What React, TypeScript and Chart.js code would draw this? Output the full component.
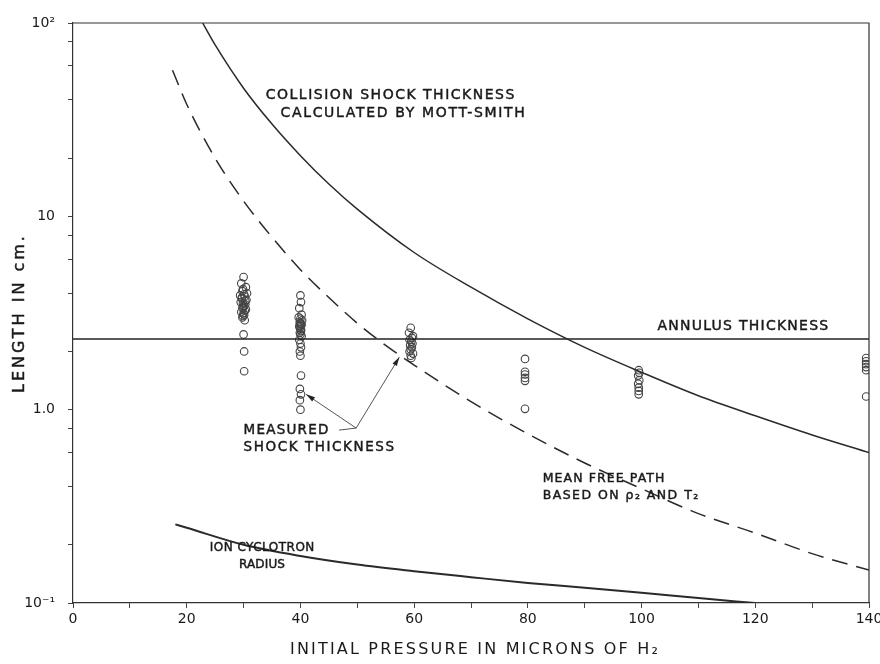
import React, { useEffect, useRef } from 'react';
import { Chart, registerables } from 'chart.js';
Chart.register(...registerables);

// ---- data ----
const collisionX = [22.8, 25, 30, 35, 40, 45, 50, 60, 70, 80, 90, 100, 110, 120, 130, 140];
const collisionY = [100, 77, 46, 30, 20.6, 14.7, 10.9, 6.5, 4.3, 2.95, 2.1, 1.56, 1.18, 0.93, 0.74, 0.6];

const mfpX = [17.5, 20, 25, 30, 35, 40, 45, 50, 55, 60, 70, 80, 90, 100, 110, 120, 130, 140];
const mfpY = [57, 38, 20, 12, 7.8, 5.3, 3.8, 2.8, 2.15, 1.7, 1.1, 0.75, 0.53, 0.39, 0.29, 0.23, 0.18, 0.148];

const ionX = [18, 20, 30, 40, 50, 60, 70, 80, 90, 100, 110, 120];
const ionY = [0.255, 0.245, 0.2, 0.175, 0.158, 0.146, 0.136, 0.127, 0.12, 0.113, 0.106, 0.1];

const annulusX = [0, 140];
const annulusY = [2.32, 2.32];

const measuredX = [
  30, 29.6, 30.4, 29.8, 30.6, 29.4, 30.2, 29.7, 30.5, 29.5, 30.3, 29.9, 30.4, 29.6, 30.1, 29.8, 30.2, 30, 30.1, 30.1,
  29.9, 30.1, 29.7, 30.3, 29.9, 30.1, 29.8, 30.2, 30.0, 29.9,
  40, 40.1, 39.8, 40.2, 39.7, 40.3, 39.9, 40.2, 39.8, 40.1, 39.9, 40.2, 39.8, 40, 40.1, 39.9, 40,
  40.0, 39.9, 40.1, 40.0, 39.9, 40.1, 40.0,
  40.1, 39.9, 40.1, 39.9, 40,
  59.4, 59.1, 59.8, 59.2, 59.7, 59.3, 59.6, 59.2, 59.8, 59.4, 59.5, 59.5, 59.4, 59.6,
  79.5, 79.5, 79.5, 79.5, 79.5, 79.5,
  99.5, 99.6, 99.4, 99.6, 99.4, 99.5, 99.5, 99.5,
  139.5, 139.5, 139.5, 139.5, 139.5, 139.5,
];
const measuredY = [
  4.85, 4.5, 4.3, 4.1, 4.0, 3.9, 3.85, 3.8, 3.7, 3.6, 3.5, 3.4, 3.3, 3.2, 3.1, 3.0, 2.9, 2.45, 2.0, 1.58,
  4.2, 3.95, 3.75, 3.65, 3.55, 3.45, 3.35, 3.25, 3.15, 3.05,
  3.9, 3.6, 3.35, 3.1, 3.0, 2.9, 2.8, 2.75, 2.7, 2.6, 2.5, 2.4, 2.3, 2.2, 2.1, 2.0, 1.9,
  2.95, 2.85, 2.78, 2.72, 2.65, 2.55, 2.45,
  1.5, 1.28, 1.2, 1.12, 1.0,
  2.65, 2.5, 2.4, 2.3, 2.2, 2.15, 2.1, 2.0, 1.95, 1.9, 1.85, 2.25, 2.05, 2.35,
  1.83, 1.57, 1.52, 1.46, 1.41, 1.01,
  1.6, 1.55, 1.5, 1.42, 1.36, 1.3, 1.25, 1.2,
  1.85, 1.78, 1.72, 1.66, 1.6, 1.17,
];

const xTickValues = [0, 10, 20, 30, 40, 50, 60, 70, 80, 90, 100, 110, 120, 130, 140];
const xTickLabels = ['0', '', '20', '', '40', '', '60', '', '80', '', '100', '', '120', '', '140'];
const yTickValues = [0.1, 0.2, 0.4, 0.6, 0.8, 1, 2, 4, 6, 8, 10, 20, 40, 60, 80, 100];
const yTickLabels = ['10⁻¹', '', '', '', '', '1.0', '', '', '', '', '10', '', '', '', '', '10²'];

const xTitle = 'INITIAL PRESSURE IN MICRONS OF H₂';
const yTitle = 'LENGTH IN cm.';

// annotation texts: [text, x (data), y (data), target width px, font px]
const notes: [string, number, number, number, number][] = [
  ['COLLISION SHOCK THICKNESS', 33.9, 42.4, 250, 14],
  ['CALCULATED BY MOTT-SMITH', 36.5, 34.2, 246, 14],
  ['ANNULUS THICKNESS', 102.8, 2.71, 172, 14],
  ['MEASURED', 30.0, 0.784, 86, 13.5],
  ['SHOCK THICKNESS', 30.0, 0.641, 152, 13.5],
  ['MEAN FREE PATH', 82.6, 0.4375, 123, 12.5],
  ['BASED ON ρ₂ AND T₂', 82.6, 0.357, 157, 12.5],
  ['ION CYCLOTRON', 24.05, 0.192, 105, 12],
  ['RADIUS', 29.2, 0.157, 46, 12],
];

// leader lines for "MEASURED SHOCK THICKNESS": junction and arrow tips (data coords)
const leaderDash = [[46.8, 0.784], [49.8, 0.803]];
const leaderTips = [[41.0, 1.2], [57.4, 1.87]];

const INK = '#1a1a1a';
const FONT = '"DejaVu Sans", sans-serif';

function fitText(ctx: CanvasRenderingContext2D, text: string, x: number, y: number, width: number, heavy = true) {
  (ctx as any).letterSpacing = '0px';
  const w = ctx.measureText(text).width;
  const n = Array.from(text).length;
  const ls = (width - w) / Math.max(1, n);
  (ctx as any).letterSpacing = ls.toFixed(2) + 'px';
  ctx.fillText(text, x, y);
  if (heavy) {
    ctx.lineWidth = 0.45;
    ctx.strokeStyle = ctx.fillStyle as string;
    ctx.strokeText(text, x, y);
  }
  (ctx as any).letterSpacing = '0px';
}

const decorPlugin = {
  id: 'decor',
  afterDatasetsDraw(chart: any) {
    const { ctx, chartArea } = chart;
    const xs = chart.scales.x;
    const ys = chart.scales.y;
    ctx.save();
    // top and right frame
    ctx.strokeStyle = '#333';
    ctx.lineWidth = 1.2;
    ctx.beginPath();
    ctx.moveTo(chartArea.left, chartArea.top);
    ctx.lineTo(chartArea.right, chartArea.top);
    ctx.lineTo(chartArea.right, chartArea.bottom);
    ctx.stroke();

    // annotation texts
    ctx.fillStyle = INK;
    ctx.textBaseline = 'middle';
    ctx.textAlign = 'left';
    for (const [t, x, y, w, fs] of notes) {
      ctx.font = `${fs}px ${FONT}`;
      fitText(ctx, t, xs.getPixelForValue(x), ys.getPixelForValue(y), w);
    }

    // leader lines
    ctx.strokeStyle = '#555';
    ctx.lineWidth = 1;
    const jx = xs.getPixelForValue(leaderDash[1][0]);
    const jy = ys.getPixelForValue(leaderDash[1][1]);
    ctx.beginPath();
    ctx.moveTo(xs.getPixelForValue(leaderDash[0][0]), ys.getPixelForValue(leaderDash[0][1]));
    ctx.lineTo(jx, jy);
    ctx.stroke();
    ctx.fillStyle = '#222';
    for (const [tx, ty] of leaderTips) {
      const px = xs.getPixelForValue(tx);
      const py = ys.getPixelForValue(ty);
      ctx.beginPath();
      ctx.moveTo(jx, jy);
      ctx.lineTo(px, py);
      ctx.stroke();
      const ang = Math.atan2(py - jy, px - jx);
      const L = 9, W = 2.5;
      ctx.beginPath();
      ctx.moveTo(px, py);
      ctx.lineTo(px - L * Math.cos(ang) + W * Math.sin(ang), py - L * Math.sin(ang) - W * Math.cos(ang));
      ctx.lineTo(px - L * Math.cos(ang) - W * Math.sin(ang), py - L * Math.sin(ang) + W * Math.cos(ang));
      ctx.closePath();
      ctx.fill();
    }

    // axis titles
    ctx.fillStyle = INK;
    ctx.font = `16px ${FONT}`;
    ctx.textAlign = 'left';
    fitText(ctx, xTitle, 290, 650, 370, false);
    ctx.save();
    ctx.translate(20, 393);
    ctx.rotate(-Math.PI / 2);
    ctx.font = `16px ${FONT}`;
    fitText(ctx, yTitle, 0, 0, 160);
    ctx.restore();
    ctx.restore();
  },
};

export default function App() {
  const ref = useRef<HTMLCanvasElement>(null);
  useEffect(() => {
    const canvas = ref.current;
    if (!canvas) return;
    const pts = (xs: number[], ys: number[]) => xs.map((x, i) => ({ x, y: ys[i] }));
    const lineBase = {
      showLine: true,
      pointRadius: 0,
      pointHoverRadius: 0,
      fill: false,
      borderColor: '#2a2a2a',
      cubicInterpolationMode: 'monotone' as const,
    };
    const chart = new Chart(canvas, {
      type: 'scatter',
      data: {
        datasets: [
          { ...lineBase, label: 'Collision shock thickness', data: pts(collisionX, collisionY), borderWidth: 1.5 },
          { ...lineBase, label: 'Mean free path', data: pts(mfpX, mfpY), borderWidth: 1.5, borderDash: [16, 9] },
          { ...lineBase, label: 'Ion cyclotron radius', data: pts(ionX, ionY), borderWidth: 2 },
          { ...lineBase, label: 'Annulus thickness', data: pts(annulusX, annulusY), borderWidth: 1.6, borderColor: '#222' },
          {
            label: 'Measured shock thickness',
            data: pts(measuredX, measuredY),
            showLine: false,
            pointRadius: 3.8,
            pointBorderWidth: 1.1,
            pointBorderColor: '#444',
            pointBackgroundColor: 'rgba(255,255,255,0)',
            pointStyle: 'circle',
          },
        ],
      },
      options: {
        animation: false,
        responsive: false,
        maintainAspectRatio: false,
        events: [],
        layout: { padding: { left: 0, right: 11, top: 23, bottom: 0 } },
        plugins: { legend: { display: false }, tooltip: { enabled: false }, title: { display: false } },
        scales: {
          x: {
            type: 'linear',
            min: 0,
            max: 140,
            afterBuildTicks: (s: any) => { s.ticks = xTickValues.map((v) => ({ value: v })); },
            afterFit: (s: any) => { s.height = 61; s.paddingLeft = 0; s.paddingRight = 0; },
            ticks: {
              autoSkip: false,
              maxRotation: 0,
              padding: 3,
              color: INK,
              font: { family: FONT, size: 14 },
              callback: (_v: any, i: number) => xTickLabels[i],
            },
            grid: { drawOnChartArea: false, drawTicks: true, tickLength: 5, color: '#444' },
            border: { color: '#333', width: 1.2 },
          },
          y: {
            type: 'logarithmic',
            min: 0.1,
            max: 100,
            afterBuildTicks: (s: any) => { s.ticks = yTickValues.map((v) => ({ value: v })); },
            afterFit: (s: any) => { s.width = 73; s.paddingTop = 0; s.paddingBottom = 0; },
            ticks: {
              autoSkip: false,
              padding: 13,
              color: INK,
              font: { family: FONT, size: 14 },
              callback: (_v: any, i: number) => yTickLabels[i],
            },
            grid: { drawOnChartArea: false, drawTicks: true, tickLength: 5, color: '#444' },
            border: { color: '#333', width: 1.2 },
          },
        },
      },
      plugins: [decorPlugin],
    } as any);
    return () => chart.destroy();
  }, []);
  return (
    <div style={{ position: 'fixed', left: 0, top: 0, width: 880, height: 664, background: '#fff' }}>
      <canvas ref={ref} width={880} height={664} style={{ display: 'block' }} />
    </div>
  );
}
